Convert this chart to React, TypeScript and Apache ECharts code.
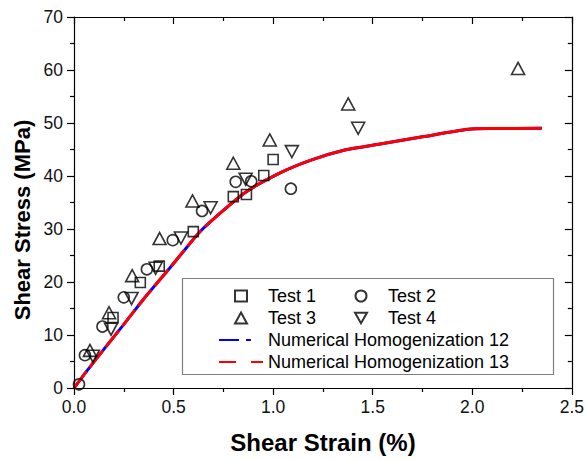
import React, { useEffect, useRef } from "react";
import * as echarts from "echarts";

// ---- Data ----
const test1: [number, number][] = [
  [0.196, 13.3], [0.333, 19.9], [0.428, 23.0], [0.599, 29.5],
  [0.8, 36.1], [0.866, 36.5], [0.953, 40.1], [1.0, 43.1],
];
const test2: [number, number][] = [
  [0.025, 0.7], [0.055, 6.2], [0.143, 11.6], [0.25, 17.1], [0.366, 22.4],
  [0.496, 27.9], [0.643, 33.4], [0.812, 38.9], [0.89, 39.0], [1.089, 37.6],
];
const test3: [number, number][] = [
  [0.08, 7.1], [0.176, 14.2], [0.292, 21.2], [0.43, 28.2], [0.595, 35.3],
  [0.8, 42.4], [0.983, 46.8], [1.377, 53.6], [2.23, 60.3],
];
const test4: [number, number][] = [
  [0.095, 6.0], [0.186, 11.1], [0.289, 16.9], [0.41, 22.6], [0.537, 28.3],
  [0.686, 34.0], [0.862, 39.4], [1.094, 44.6], [1.427, 49.0],
];
const numStrain = [0, 0.06, 0.15, 0.25, 0.35, 0.48, 0.55, 0.63, 0.71, 0.86, 1.03, 1.19, 1.36, 1.53, 1.75, 1.98, 2.1, 2.35];
const num12Stress = [0, 3.0, 7.3, 12.0, 16.8, 22.6, 25.8, 29.4, 32.2, 36.9, 40.5, 43.0, 44.9, 46.0, 47.4, 48.8, 48.95, 49.0];
const num13Stress = [0, 3.0, 7.3, 12.0, 16.8, 22.6, 25.8, 29.4, 32.2, 36.9, 40.5, 43.0, 44.9, 46.0, 47.4, 48.8, 48.95, 49.0];
const dashedEndIndex = 8; // red curve appears dashed up to this point, solid beyond

const xTicks = { min: 0, max: 2.5, interval: 0.5 };
const yTicks = { min: 0, max: 70, interval: 10 };

const FONT = "'Liberation Sans', Arial, sans-serif";

export default function App() {
  const ref = useRef<HTMLDivElement>(null);
  useEffect(() => {
    if (!ref.current) return;
    const chart = echarts.init(ref.current, null, { renderer: "svg" });

    const num12 = numStrain.map((x, i) => [x, num12Stress[i]]);
    const num13 = numStrain.map((x, i) => [x, num13Stress[i]]);
    const num13Dashed = num13.slice(0, dashedEndIndex + 1);
    const num13Solid = num13.slice(dashedEndIndex);

    const downTri = "path://M0,0 L10,0 L5,8.66 Z";
    const symStyle = { color: "rgba(255,255,255,0)", borderColor: "#000", borderWidth: 1.6 };
    const hiddenSym = { color: "rgba(0,0,0,0)", borderWidth: 0, opacity: 0 };

    const tickStyle = { color: "#000", width: 1.2 };
    const axisCommon = {
      type: "value" as const,
      axisLine: { show: true, onZero: false, lineStyle: tickStyle },
      splitLine: { show: false },
      minorSplitLine: { show: false },
    };

    const legendCommon = {
      orient: "vertical" as const,
      itemGap: 2,
      padding: 0,
      selectedMode: false,
    };
    const legendText = { fontFamily: FONT, fontSize: 18, color: "#000", lineHeight: 20 };

    const smoothing = { smooth: 0.25 };

    chart.setOption({
      animation: false,
      backgroundColor: "#fff",
      grid: { left: 74, top: 17, right: 12, bottom: 72 },
      xAxis: [
        {
          ...axisCommon,
          position: "bottom",
          ...xTicks,
          axisTick: { show: true, length: 7, lineStyle: tickStyle },
          minorTick: { show: true, splitNumber: 2, length: 4, lineStyle: tickStyle },
          axisLabel: {
            margin: 10, fontFamily: FONT, fontSize: 17.5, color: "#111",
            formatter: (v: number) => v.toFixed(1),
          },
        },
        {
          ...axisCommon,
          position: "top",
          ...xTicks,
          axisTick: { show: true, inside: true, length: 7, lineStyle: tickStyle },
          minorTick: { show: true, splitNumber: 2, length: 4, lineStyle: tickStyle },
          axisLabel: { show: false },
        },
      ],
      yAxis: [
        {
          ...axisCommon,
          position: "left",
          ...yTicks,
          axisTick: { show: true, length: 7, lineStyle: tickStyle },
          minorTick: { show: true, splitNumber: 2, length: 4, lineStyle: tickStyle },
          axisLabel: { margin: 11, fontFamily: FONT, fontSize: 17.5, color: "#111" },
        },
        {
          ...axisCommon,
          position: "right",
          ...yTicks,
          axisTick: { show: true, inside: true, length: 7, lineStyle: tickStyle },
          minorTick: { show: true, splitNumber: 2, length: 4, lineStyle: tickStyle },
          axisLabel: { show: false },
        },
      ],
      legend: [
        {
          ...legendCommon, left: 234, top: 286, itemWidth: 12, itemHeight: 11,
          textStyle: { ...legendText, padding: [0, 0, 0, 16] },
          data: ["Test 1", "Test 3"],
        },
        {
          ...legendCommon, left: 354, top: 286, itemWidth: 12, itemHeight: 11,
          textStyle: { ...legendText, padding: [0, 0, 0, 16] },
          data: ["Test 2", "Test 4"],
        },
        {
          ...legendCommon, left: 218, top: 330, itemWidth: 44, itemHeight: 10,
          textStyle: legendText,
          data: ["Numerical Homogenization 12", "Numerical Homogenization 13"],
        },
      ],
      graphic: [
        {
          type: "rect", left: 180, top: 276, z: 0,
          shape: { width: 371, height: 96 },
          style: { fill: "none", stroke: "#7f7f7f", lineWidth: 1.2 },
        },
        {
          type: "text", x: 323, y: 442, z: 10,
          style: {
            text: "Shear Strain (%)", align: "center", verticalAlign: "middle",
            font: `bold 24px ${FONT}`, fill: "#000",
          },
        },
        {
          type: "text", x: 22, y: 220, rotation: Math.PI / 2, z: 10,
          style: {
            text: "Shear Stress (MPa)", align: "center", verticalAlign: "middle",
            font: `bold 22px ${FONT}`, fill: "#000",
          },
        },
      ],
      series: [
        // plotted numerical curves (blue underneath, red on top)
        {
          name: "num12-curve", type: "line", data: num12, showSymbol: false, symbol: "none",
          ...smoothing, z: 2,
          lineStyle: { color: "#0000ff", width: 3 },
        },
        {
          name: "num13-curve-dashed", type: "line", data: num13Dashed, showSymbol: false, symbol: "none",
          ...smoothing, z: 3,
          lineStyle: { color: "#ff0000", width: 3, type: [21, 5] },
        },
        {
          name: "num13-curve-solid", type: "line", data: num13Solid, showSymbol: false, symbol: "none",
          ...smoothing, z: 3,
          lineStyle: { color: "#ff0000", width: 3 },
        },
        // legend entries for the numerical curves
        {
          name: "Numerical Homogenization 12", type: "line", data: [], symbol: "none",
          lineStyle: { color: "#0000ff", width: 3, type: [20, 7, 5, 12] },
          itemStyle: hiddenSym,
        },
        {
          name: "Numerical Homogenization 13", type: "line", data: [], symbol: "none",
          lineStyle: { color: "#ff0000", width: 3, type: [17, 15] },
          itemStyle: hiddenSym,
        },
        // experimental tests
        {
          name: "Test 1", type: "scatter", data: test1, symbol: "rect", symbolSize: 10, z: 5,
          itemStyle: symStyle,
        },
        {
          name: "Test 2", type: "scatter", data: test2, symbol: "circle", symbolSize: 11, z: 5,
          itemStyle: symStyle,
        },
        {
          name: "Test 3", type: "scatter", data: test3, symbol: "triangle", symbolSize: [13, 12], z: 5,
          itemStyle: symStyle,
        },
        {
          name: "Test 4", type: "scatter", data: test4, symbol: downTri, symbolSize: [13, 12], z: 5,
          itemStyle: symStyle,
        },
      ],
    });
    return () => chart.dispose();
  }, []);

  return (
    <div
      ref={ref}
      style={{ position: "fixed", left: 0, top: 0, width: 587, height: 460, background: "#fff" }}
    />
  );
}
